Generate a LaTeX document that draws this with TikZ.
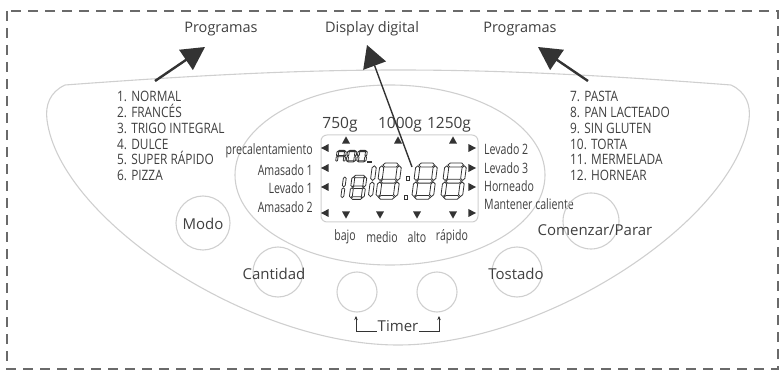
\documentclass[tikz,border=0pt]{standalone}
\usepackage{fontspec}
\setmainfont{Open Sans}
\newfontfamily\condf{Open Sans}[FakeStretch=0.74]
\newfontfamily\listf{Open Sans}[FakeStretch=0.83]
\usetikzlibrary{arrows.meta}
\definecolor{txt}{HTML}{3F3F3F}
\definecolor{lg}{HTML}{CFCFCF}
\definecolor{dashc}{HTML}{6A6A6A}
\definecolor{arr}{HTML}{333333}
% seven segment geometry (local units, y downwards)
\newcommand\hsegm[1]{\draw[segline] (0.5,#1) -- (1.7,#1-1.2) -- (8.3,#1-1.2) -- (9.5,#1) -- (8.3,#1+1.2) -- (1.7,#1+1.2) -- cycle;}
\newcommand\vsegm[2]{\draw[segline] (#1,#2+0.5) -- (#1+1.2,#2+1.7) -- (#1+1.2,#2+8.3) -- (#1,#2+9.5) -- (#1-1.2,#2+8.3) -- (#1-1.2,#2+1.7) -- cycle;}
\newcommand\sega{\hsegm{0}}
\newcommand\segg{\hsegm{10}}
\newcommand\segd{\hsegm{20}}
\newcommand\segf{\vsegm{0}{0}}
\newcommand\segb{\vsegm{10}{0}}
\newcommand\sege{\vsegm{0}{10}}
\newcommand\segc{\vsegm{10}{10}}
\tikzset{
  segline/.style={draw=arr, line width=0.8pt, line join=miter},
  pics/sevseg/.style={code={\foreach \s in {#1}{\csname seg\s\endcsname}}},
  pics/uptri/.style={code={\fill[arr] (0,-3.6) -- (4,3.6) -- (-4,3.6) -- cycle;}},
  pics/dntri/.style={code={\fill[arr] (0,3.6) -- (4,-3.6) -- (-4,-3.6) -- cycle;}},
  pics/lftri/.style={code={\fill[arr] (-4,0) -- (3.6,-4) -- (3.6,4) -- cycle;}},
  pics/rttri/.style={code={\fill[arr] (4,0) -- (-3.6,-4) -- (-3.6,4) -- cycle;}},
  housing/.style={draw=lg, line width=1.1pt},
  btn/.style={circle, draw=lg, line width=1.1pt, inner sep=0pt},
  btnlbl/.style={text=txt, inner sep=0pt, font=\fontsize{15}{17}\selectfont},
  toplbl/.style={text=txt, inner sep=0pt, font=\fontsize{14.5}{17}\selectfont},
  listlbl/.style={text=txt, inner sep=0pt, anchor=base west, font=\listf\fontsize{14.3}{16}\selectfont},
  displbl/.style={text=txt, inner sep=0pt, font=\condf\fontsize{14.3}{16}\selectfont},
  wlbl/.style={text=txt, inner sep=0pt, font=\fontsize{15.5}{17}\selectfont},
  bigarr/.style={draw=arr, line width=2.4pt, -{Triangle[length=23pt,width=24pt]}},
  thinarr/.style={draw=arr, line width=1.4pt, -{Triangle[length=22pt,width=24pt]}},
  brk/.style={draw=arr, line width=0.8pt, -{Stealth[length=4pt,width=3.5pt]}},
  border/.style={draw=dashc, line width=1.3pt, dash pattern=on 10pt off 7pt}
}
\begin{document}
\begin{tikzpicture}[x=1pt,y=-1pt]
\useasboundingbox (0,0) rectangle (782,374);
% border
\draw[border] (7,11) rectangle (778,369);
% housing outline
\draw[housing] (65,85) .. controls (200,75) and (300,70) .. (398,70)
  .. controls (500,70) and (600,75) .. (731,85)
  .. controls (746,92) and (751,105) .. (749,120)
  .. controls (736,220) and (546,345) .. (398,345)
  .. controls (250,345) and (60,220) .. (47,120)
  .. controls (45,105) and (50,92) .. (65,85) -- cycle;
% display ellipse
\draw[housing] (390,175) ellipse [x radius=155, y radius=90];
% display box
\node[draw=lg, line width=1pt, rounded corners=6pt, minimum width=157pt, minimum height=87pt, inner sep=0pt] (disp) at (399.5,178.5) {};
% top labels
\node[toplbl] (progL) at (221,29) {Programas};
\node[toplbl] (dispL) at (372,29) {Display digital};
\node[toplbl] (progR) at (520,29) {Programas};
% arrows
\coordinate (tailL) at (155,81);
\coordinate (tipL) at (205,47);
\coordinate (tailD) at (412,167);
\coordinate (tipD) at (367,45);
\coordinate (tailR) at (588,81);
\coordinate (tipR) at (538,47);
% program lists
\node[listlbl] (p1) at (117,102) {1. NORMAL};
\node[listlbl] (p2) at (117,118) {2. FRANCÉS};
\node[listlbl] (p3) at (117,134) {3. TRIGO INTEGRAL};
\node[listlbl] (p4) at (117,150) {4. DULCE};
\node[listlbl] (p5) at (117,165) {5. SUPER RÁPIDO};
\node[listlbl] (p6) at (117,181) {6. PIZZA};
\node[listlbl] (p7) at (570,102) {7. PASTA};
\node[listlbl] (p8) at (570,118) {8. PAN LACTEADO};
\node[listlbl] (p9) at (570,134) {9. SIN GLUTEN};
\node[listlbl] (p10) at (570,150) {10. TORTA};
\node[listlbl] (p11) at (570,165) {11. MERMELADA};
\node[listlbl] (p12) at (570,181) {12. HORNEAR};
% weights
\node[wlbl] (w1) at (340,125) {750g};
\node[wlbl] (w2) at (400,125) {1000g};
\node[wlbl] (w3) at (449,125) {1250g};
% left labels
\node[displbl, anchor=east] (l1) at (313,151) {precalentamiento};
\node[displbl, anchor=east] (l2) at (313,170) {Amasado 1};
\node[displbl, anchor=east] (l3) at (313,188) {Levado 1};
\node[displbl, anchor=east] (l4) at (313,207) {Amasado 2};
% right labels
\node[displbl, anchor=west] (r1) at (484,149) {Levado 2};
\node[displbl, anchor=west] (r2) at (484,168) {Levado 3};
\node[displbl, anchor=west] (r3) at (484,186) {Horneado};
\node[displbl, anchor=west] (r4) at (484,204) {Mantener caliente};
% bottom labels
\node[displbl] (b1) at (345,237) {bajo};
\node[displbl] (b2) at (382,237) {medio};
\node[displbl] (b3) at (417,237) {alto};
\node[displbl] (b4) at (452,237) {rápido};
% triangles
\foreach \y in {148,168,187,213}{\pic at (325,\y) {lftri}; \pic at (472,\y) {rttri};}
\foreach \x in {346,398,453}{\pic at (\x,140) {uptri};}
\foreach \x in {346,380,417,453}{\pic at (\x,215) {dntri};}
% seven segment display
\pic[xscale=0.75,yscale=0.52,xslant=0.1] at (338,151) {sevseg={a,b,c,e,f,g}};
\pic[xscale=0.75,yscale=0.52,xslant=0.1] at (348.5,151) {sevseg={a,b,c,d,e,f}};
\pic[xscale=0.75,yscale=0.52,xslant=0.1] at (359,151) {sevseg={a,b,c,d,e,f}};
\draw[segline] (367,161.2) rectangle (371,162.8);
\pic[xscale=1.2,yscale=1.08,xslant=0.12] at (333,176.5) {sevseg={b,c}};
\pic[xscale=1.2,yscale=1.08,xslant=0.12] at (353.5,176.5) {sevseg={a,b,c,d,e,f,g}};
\pic[xscale=1.75,yscale=1.62,xslant=0.12] at (357,165) {sevseg={b,c}};
\pic[xscale=1.75,yscale=1.62,xslant=0.12] at (382,165) {sevseg={a,b,c,d,e,f,g}};
\pic[xscale=1.75,yscale=1.62,xslant=0.12] at (418,165) {sevseg={a,b,c,d,e,f,g}};
\pic[xscale=1.75,yscale=1.62,xslant=0.12] at (447,165) {sevseg={a,b,c,d,e,f,g}};
\draw[segline] (406,176.5) rectangle (409.5,180);
\draw[segline] (404,195.5) rectangle (407.5,199);
% arrows drawn over display
\draw[bigarr] (tailL) -- (tipL);
\draw[thinarr] (tailD) -- (tipD);
\draw[bigarr] (tailR) -- (tipR);
% buttons
\node[btn, minimum size=54pt] (modo) at (203,223) {};
\node[btnlbl] (modoL) at (203,224) {Modo};
\node[btn, minimum size=50pt] (cant) at (278,272) {};
\node[btnlbl] (cantL) at (274,274) {Cantidad};
\node[btn, minimum size=40pt] (t1) at (357,292) {};
\node[btn, minimum size=40pt] (t2) at (437,292) {};
\node[btn, minimum size=50pt] (tost) at (517,272) {};
\node[btnlbl] (tostL) at (516,274) {Tostado};
\node[btn, minimum size=56pt] (com) at (591,221) {};
\node[btnlbl] (comL) at (595,230) {Comenzar/Parar};
% timer
\node[btnlbl] (timer) at (398,326) {Timer};
\coordinate (tlup) at (356,316);
\coordinate (trup) at (439,316);
\draw[brk] (timer.base west) ++(-1,0) coordinate (tlb) -| (tlup);
\draw[brk] (timer.base east) ++(1,0) coordinate (trb) -| (trup);
\end{tikzpicture}
\end{document}
